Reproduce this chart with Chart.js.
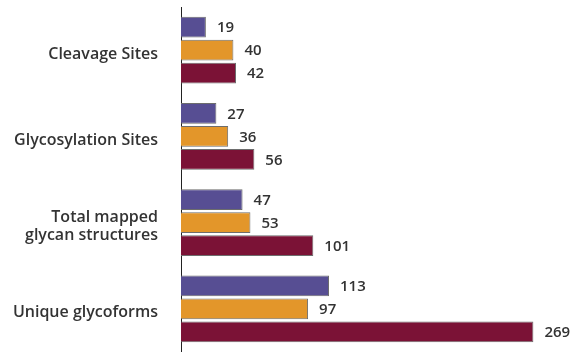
<!DOCTYPE html>
<html lang="en">
<head>
    <meta charset="utf-8">
    <title>Glycan mapping</title>
    <script src="https://cdn.jsdelivr.net/npm/chart.js@4/dist/chart.umd.min.js"></script>
    <style>
        html, body { margin: 0; padding: 0; background: #fff; }
        #wrap { width: 588px; height: 352px; }
    </style>
</head>
<body>
<div id="wrap"><canvas id="chart"></canvas></div>
<script>
var categories = ['Cleavage Sites', 'Glycosylation Sites', ['Total mapped', 'glycan structures'], 'Unique glycoforms'];
var seriesA = [19, 27, 47, 113];
var seriesB = [40, 36, 53, 97];
var seriesC = [42, 56, 101, 269];

var colors = ['#574e93', '#e3962a', '#7b1236'];

// draws the value next to the end of each bar
var valueLabels = {
    id: 'valueLabels',
    afterDatasetsDraw: function(chart) {
        var ctx = chart.ctx;
        ctx.save();
        ctx.font = '600 15px "Open Sans"';
        ctx.fillStyle = '#333';
        ctx.textBaseline = 'middle';
        chart.data.datasets.forEach(function(ds, i) {
            chart.getDatasetMeta(i).data.forEach(function(bar, j) {
                ctx.fillText(ds.data[j], bar.x + 11, bar.y + 1);
            });
        });
        ctx.restore();
    }
};

var makeSet = function(label, data, color) {
    return {
        label: label,
        data: data,
        backgroundColor: color,
        borderColor: '#6d6d6d',
        borderWidth: 1,
        barPercentage: 0.9,
        categoryPercentage: 0.8
    };
};

new Chart(document.getElementById('chart').getContext('2d'), {
    type: 'bar',
    data: {
        labels: categories,
        datasets: [
            makeSet('A', seriesA, colors[0]),
            makeSet('B', seriesB, colors[1]),
            makeSet('C', seriesC, colors[2])
        ]
    },
    options: {
        indexAxis: 'y',
        responsive: true,
        maintainAspectRatio: false,
        animation: false,
        layout: { padding: { top: 7, right: 14, bottom: 0, left: 0 } },
        plugins: { legend: { display: false }, tooltip: { enabled: false } },
        scales: {
            x: { display: false, min: 0, max: 300 },
            y: {
                grid: { display: false, drawTicks: false },
                border: { display: true, color: '#222', width: 1 },
                ticks: {
                    color: '#333',
                    padding: 23,
                    labelOffset: 4,
                    font: { family: 'Open Sans', size: 16, weight: '600', lineHeight: 1.1 }
                },
                afterFit: function(scale) {
                    scale.width = 181;
                    scale.paddingTop = 0;
                    scale.paddingBottom = 0;
                }
            }
        }
    },
    plugins: [valueLabels]
});
</script>
</body>
</html>
